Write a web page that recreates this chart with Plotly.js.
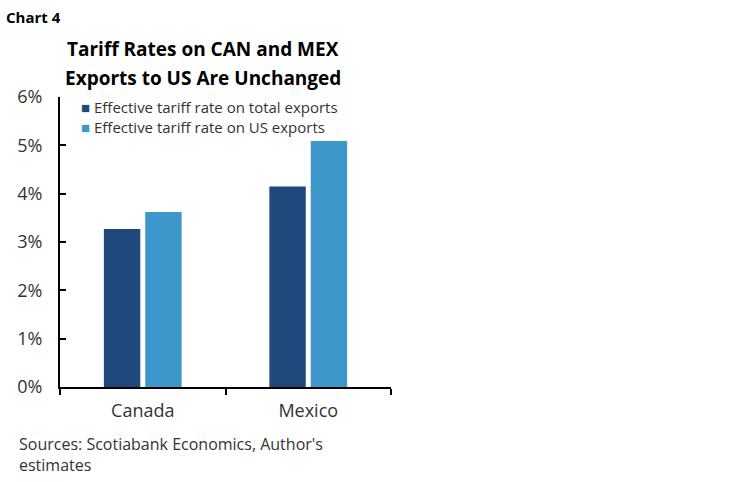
<!DOCTYPE html>
<html>
<head>
<meta charset="utf-8">
<script src="https://cdn.plot.ly/plotly-3.0.1.min.js"></script>
<style>
  html, body { margin: 0; padding: 0; background: #fff; }
  #plot { width: 749px; height: 482px; }
</style>
</head>
<body>
<div id="plot"></div>
<script>
var countries = ["Canada", "Mexico"];
var totalExports = [3.27, 4.15];
var usExports = [3.62, 5.09];
var seriesNames = ["Effective tariff rate on total exports", "Effective tariff rate on US exports"];
var seriesColors = ["#1f497c", "#3d97cb"];
var yTicks = [0, 1, 2, 3, 4, 5, 6];
var yTickText = ["0%", "1%", "2%", "3%", "4%", "5%", "6%"];

var font = "Open Sans, Noto Sans, sans-serif";

// plot area in pixels: 331 wide, 290 high
var pw = 331, ph = 290;

var traceTotal = {
  x: countries,
  y: totalExports,
  type: "bar",
  name: seriesNames[0],
  marker: { color: seriesColors[0] }
};

var traceUS = {
  x: countries,
  y: usExports,
  type: "bar",
  name: seriesNames[1],
  marker: { color: seriesColors[1] }
};

// legend drawn as one annotation so the swatch sits close to the text
var legendText = seriesNames.map(function (n, i) {
  return "<span style='color:" + seriesColors[i] + "'>■</span> " + n;
}).join("<br>");

var layout = {
  width: 749,
  height: 482,
  margin: { l: 60, r: 358, t: 97, b: 95 },
  paper_bgcolor: "#fff",
  plot_bgcolor: "#fff",
  font: { family: font, color: "#333", size: 16 },
  barmode: "group",
  bargap: 0.5,
  bargroupgap: 0.12,
  showlegend: false,
  xaxis: {
    showline: true,
    linecolor: "#000",
    linewidth: 2,
    ticks: "outside",
    ticklen: 6,
    tickwidth: 2,
    tickcolor: "#000",
    tickson: "boundaries",
    showgrid: false,
    ticklabelstandoff: 6,
    tickfont: { size: 18, color: "#333" },
    fixedrange: true
  },
  yaxis: {
    range: [0, 6],
    tickvals: yTicks,
    ticktext: yTickText,
    showline: true,
    linecolor: "#000",
    linewidth: 2,
    ticks: "inside",
    ticklen: 6,
    tickwidth: 2,
    tickcolor: "#000",
    showgrid: false,
    zeroline: false,
    ticklabelstandoff: 12,
    tickfont: { size: 18, color: "#333" },
    fixedrange: true
  },
  annotations: [
    {
      text: "<b>Chart 4</b>", xref: "paper", yref: "paper",
      x: -56 / pw, y: 1 + 80 / ph, xanchor: "left", yanchor: "middle",
      showarrow: false, font: { size: 15, color: "#000" }
    },
    {
      text: "<b>Tariff Rates on CAN and MEX</b>", xref: "paper", yref: "paper",
      x: 143 / pw, y: 1 + 48 / ph, xanchor: "center", yanchor: "middle",
      showarrow: false, font: { size: 19, color: "#000" }
    },
    {
      text: "<b>Exports to US Are Unchanged</b>", xref: "paper", yref: "paper",
      x: 143 / pw, y: 1 + 19 / ph, xanchor: "center", yanchor: "middle",
      showarrow: false, font: { size: 19, color: "#000" }
    },
    {
      text: "Sources: Scotiabank Economics, Author's<br>estimates", xref: "paper", yref: "paper",
      x: -43 / pw, y: -44 / ph, xanchor: "left", yanchor: "top", align: "left",
      showarrow: false, font: { size: 16, color: "#333" }
    },
    {
      text: legendText, xref: "paper", yref: "paper",
      x: 19 / pw, y: 1 + 2 / ph, xanchor: "left", yanchor: "top", align: "left",
      showarrow: false, font: { size: 15, color: "#333" }
    }
  ]
};

Plotly.newPlot("plot", [traceTotal, traceUS], layout, { displayModeBar: false, staticPlot: true });
</script>
</body>
</html>
